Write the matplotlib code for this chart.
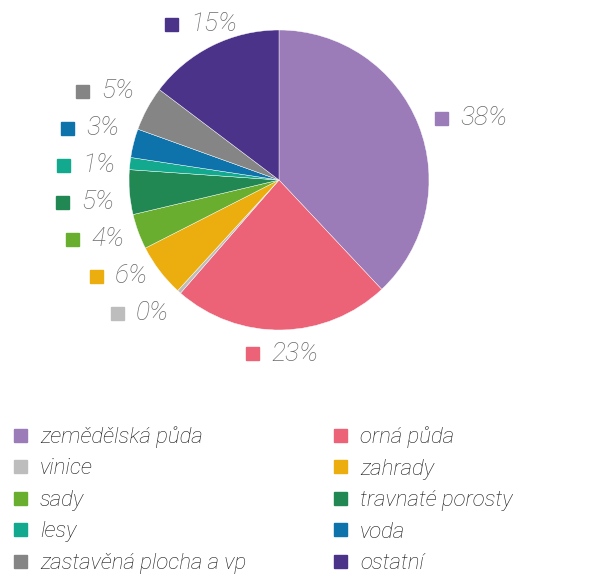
import numpy as np
import matplotlib
matplotlib.use("Agg")
import matplotlib.pyplot as plt
from matplotlib.patches import Rectangle
from matplotlib.offsetbox import AnnotationBbox, HPacker, DrawingArea, TextArea

categories = ["zemědělská půda", "orná půda", "vinice", "zahrady", "sady",
              "travnaté porosty", "lesy", "voda", "zastavěná plocha a vp", "ostatní"]
values = [38.0, 23.4, 0.4, 5.7, 3.8, 4.8, 1.3, 3.1, 4.8, 14.7]
colors = ["#9b7bb8", "#ec6378", "#bdbdbd", "#ecae0f", "#6aae2f",
          "#228853", "#12a98f", "#0e72ab", "#858585", "#4b338a"]

plt.rcParams['font.family'] = ['Roboto', 'DejaVu Sans']

W, H = 613, 583
DPI = 100
fig = plt.figure(figsize=(W / DPI, H / DPI), dpi=DPI)
cx, cy, R = 279, 180, 150
ax = fig.add_axes([(cx - R) / W, (H - cy - R) / H, 2 * R / W, 2 * R / H])
wedges, _ = ax.pie(values, colors=colors, startangle=90, counterclock=False,
                   radius=1, wedgeprops=dict(linewidth=0.3, edgecolor="white"))
ax.set_xlim(-1, 1)
ax.set_ylim(-1, 1)
ax.set_aspect("equal")
ax.axis("off")

# label anchors
total = sum(values)
anchors = []
for w in wedges:
    mid = np.deg2rad((w.theta1 + w.theta2) / 2)
    x, y = np.cos(mid), np.sin(mid)
    if x > 0.5:
        ha, r, side = 0.0, 1.12, "R"
    elif x < -0.5:
        ha, r, side = 1.0, 1.1, "L"
    else:
        ha, r, side = 0.5, 1.16, "C"
    anchors.append([r * x, r * y, ha, side])

# spread labels on each side so they keep a minimum vertical gap
min_gap = 37 / R
for side in ("L", "R"):
    idx = sorted([i for i, a in enumerate(anchors) if a[3] == side],
                 key=lambda i: -anchors[i][1])
    for _ in range(200):
        for a, b in zip(idx[:-1], idx[1:]):
            gap = anchors[a][1] - anchors[b][1]
            if gap < min_gap:
                d = (min_gap - gap) / 2
                anchors[a][1] += d
                anchors[b][1] -= d

px2pt = 72 / DPI
msq = 13 * px2pt
for (ax_, ay_, ha, side), v, c in zip(anchors, values, colors):
    da = DrawingArea(msq, msq, 0, 0)
    da.add_artist(Rectangle((0, 0), msq, msq, color=c))
    ta = TextArea(f"{round(v / total * 100):d}%",
                  textprops=dict(color="#6a6a6a", fontsize=19, style="italic",
                                 fontweight="light"))
    box = HPacker(children=[da, ta], align="center", pad=0, sep=12 * px2pt)
    ab = AnnotationBbox(box, (ax_, ay_), frameon=False,
                        box_alignment=(ha, 0.5), annotation_clip=False, pad=0)
    ax.add_artist(ab)

# legend, two columns, row-major order
leg_x = [14, 334]
leg_y0, leg_dy = 435, 31.5
msize = 13
for i, (name, c) in enumerate(zip(categories, colors)):
    col, row = i % 2, i // 2
    xm = leg_x[col]
    ym = leg_y0 + row * leg_dy
    fig.patches.append(Rectangle((xm / W, 1 - (ym + msize / 2) / H),
                                 msize / W, msize / H, color=c,
                                 transform=fig.transFigure, figure=fig))
    fig.text((xm + msize + 13) / W, 1 - ym / H, name, ha="left", va="center_baseline",
             fontsize=16, style="italic", fontweight="light", color="#1a1a1a")

fig.savefig("out.png", dpi=DPI)
